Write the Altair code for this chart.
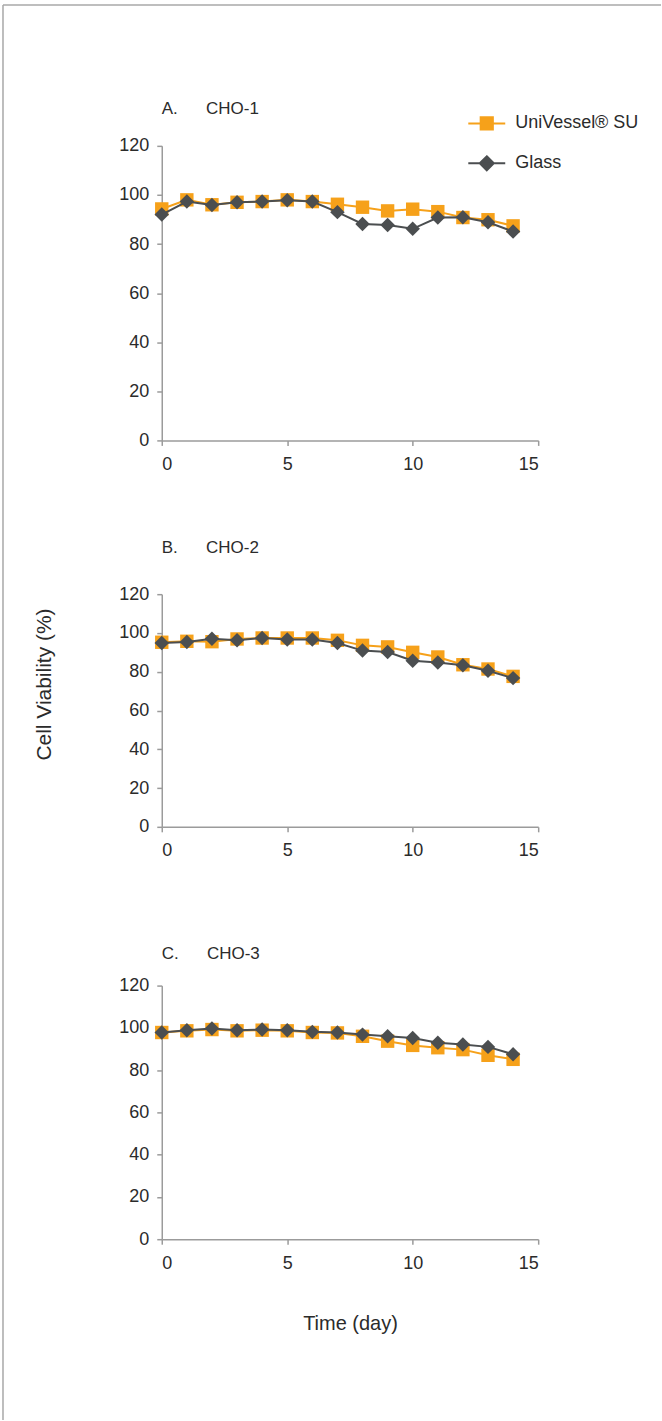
import altair as alt
import pandas as pd

# Culture day for every sample
days = list(range(15))

series_names = ["UniVessel® SU", "Glass"]
series_colors = ["#F6A11A", "#4B4E50"]

# Cell viability (%) per cell line
cho1_univessel = [94.3, 98.0, 96.0, 97.0, 97.3, 98.0, 97.3, 96.2, 95.0, 93.5, 94.2, 93.2, 90.8, 89.9, 87.4]
cho1_glass = [92.0, 97.3, 95.9, 97.0, 97.3, 97.8, 97.3, 93.0, 88.2, 87.8, 86.2, 90.8, 90.9, 88.9, 85.1]

cho2_univessel = [95.2, 95.7, 95.5, 96.9, 97.4, 97.4, 97.4, 96.2, 93.6, 92.8, 90.0, 87.6, 83.6, 81.4, 77.6]
cho2_glass = [94.8, 95.3, 97.0, 96.2, 97.4, 96.6, 96.6, 94.8, 90.9, 90.2, 85.7, 84.8, 83.3, 80.5, 76.7]

cho3_univessel = [97.8, 98.6, 99.2, 98.6, 98.9, 98.6, 97.8, 97.6, 96.0, 93.7, 91.7, 90.6, 89.7, 87.0, 85.1]
cho3_glass = [97.8, 98.9, 99.7, 98.9, 99.2, 98.9, 98.1, 97.8, 96.8, 96.0, 95.2, 93.0, 92.1, 91.0, 87.5]

GAP = "\u00a0" * 6
panel_titles = [f"A.{GAP}CHO-1", f"B.{GAP}CHO-2", f"C.{GAP}CHO-3"]
x_ticks = [0, 5, 10, 15]
y_ticks = [0, 20, 40, 60, 80, 100, 120]

FONT = "Liberation Sans, Arial, sans-serif"
TEXT = "#2b2b2b"
AXIS = "#9b9b9b"
FRAME = "#a8a8a8"


def frame(uni, glass):
    return pd.DataFrame({
        "day": days + days,
        "viability": uni + glass,
        "series": [series_names[0]] * len(days) + [series_names[1]] * len(days),
    })


# Legend glyphs: a short line segment crossed by the series marker
legend_paths = {
    series_names[0]: "M-1,0H1M-0.33,-0.33H0.33V0.33H-0.33Z",
    series_names[1]: "M-1,0H1M0,-0.38L0.38,0L0,0.38L-0.38,0Z",
}
shape_expr = (
    f"datum.value === 'Glass' ? '{legend_paths['Glass']}' : '{legend_paths[series_names[0]]}'"
)
color_expr = f"datum.value === 'Glass' ? '{series_colors[1]}' : '{series_colors[0]}'"


def x_axis(title=None):
    kw = dict(
        values=x_ticks, grid=False, tickSize=5, tickColor=AXIS, domainColor=AXIS,
        domainWidth=1.5, tickWidth=1.5, labelFont=FONT, labelFontSize=18,
        labelColor=TEXT, labelPadding=10,
    )
    if title:
        kw.update(title=title, titleFont=FONT, titleFontSize=20, titleFontWeight="normal",
                  titleColor=TEXT, titlePadding=41)
    else:
        kw.update(title=None)
    return alt.Axis(**kw)


def y_axis(title=None):
    kw = dict(
        values=y_ticks, grid=False, tickSize=5, tickColor=AXIS, domainColor=AXIS,
        domainWidth=1.5, tickWidth=1.5, labelFont=FONT, labelFontSize=18,
        labelColor=TEXT, labelPadding=8,
    )
    if title:
        kw.update(
            title=title, titleFont=FONT, titleFontSize=21, titleFontWeight="normal",
            titleColor=TEXT, titleAngle=-90, titleX=-107, titleY=90, titleBaseline="bottom",
            titleAlign="center",
        )
    else:
        kw.update(title=None)
    return alt.Axis(**kw)


def panel(df, title, height, title_offset, legend=False, y_title=None, x_title=None):
    if legend:
        color_legend = alt.Legend(
            orient="none", legendX=306, legendY=-42, title=None, padding=0,
            labelFont=FONT, labelFontSize=18, labelColor=TEXT, labelOffset=9,
            symbolSize=1369, symbolStrokeWidth=2, rowPadding=10,
            symbolType={"expr": shape_expr},
            symbolFillColor={"expr": color_expr},
            symbolStrokeColor={"expr": color_expr},
            symbolOpacity=1,
        )
    else:
        color_legend = None

    base = alt.Chart(df).encode(
        x=alt.X("day:Q", scale=alt.Scale(domain=[0, 15], nice=False, zero=False),
                axis=x_axis(x_title)),
        y=alt.Y("viability:Q", scale=alt.Scale(domain=[0, 120], nice=False),
                axis=y_axis(y_title)),
    )
    layers = []
    marks = [(series_names[0], series_colors[0], 180, "square"),
             (series_names[1], series_colors[1], 210, "diamond")]
    for name, col, size, shape in marks:
        sub = base.transform_filter(alt.datum.series == name)
        layers.append(sub.mark_line(strokeWidth=2, color=col))
        layers.append(
            sub.mark_point(shape=shape, size=size, filled=True, opacity=1, strokeWidth=0)
            .encode(color=alt.Color(
                "series:N",
                scale=alt.Scale(domain=series_names, range=series_colors),
                legend=color_legend,
            ))
        )

    return alt.layer(*layers).properties(
        width=377, height=height,
        title=alt.TitleParams(
            title, anchor="start", frame="group", font=FONT, fontSize=17,
            fontWeight="normal", color=TEXT, offset=title_offset,
        ),
    )


panel_a = panel(frame(cho1_univessel, cho1_glass), panel_titles[0], 295, -14, legend=True)
panel_b = panel(frame(cho2_univessel, cho2_glass), panel_titles[1], 233, 28,
                y_title="Cell Viability (%)")
panel_c = panel(frame(cho3_univessel, cho3_glass), panel_titles[2], 254, 14,
                x_title="Time (day)")

# Thin page frame along the top and left edges, kept in its own empty cell
border_src = pd.DataFrame({"edge": ["top", "left"]})
border_top = alt.Chart(border_src).transform_filter(alt.datum.edge == "top").mark_rule(
    color=FRAME, strokeWidth=1.5
).encode(x=alt.value(-159), x2=alt.value(500), y=alt.value(-1395))
border_left = alt.Chart(border_src).transform_filter(alt.datum.edge == "left").mark_rule(
    color=FRAME, strokeWidth=1.5
).encode(x=alt.value(-159), y=alt.value(-1395), y2=alt.value(22))
border = alt.layer(border_top, border_left).properties(width=377, height=1)

lower = (
    alt.vconcat(panel_b, panel_c, border, spacing=159, bounds="flush")
    .resolve_scale(color="independent")
)
chart = (
    alt.vconcat(panel_a, lower, spacing=154, bounds="flush")
    .resolve_scale(color="independent")
    .properties(padding={"left": 2, "top": 3, "right": 0, "bottom": 0}, background="white")
    .configure_view(stroke=None)
)

chart.save("out.html", embed_options={"renderer": "svg", "actions": False})
